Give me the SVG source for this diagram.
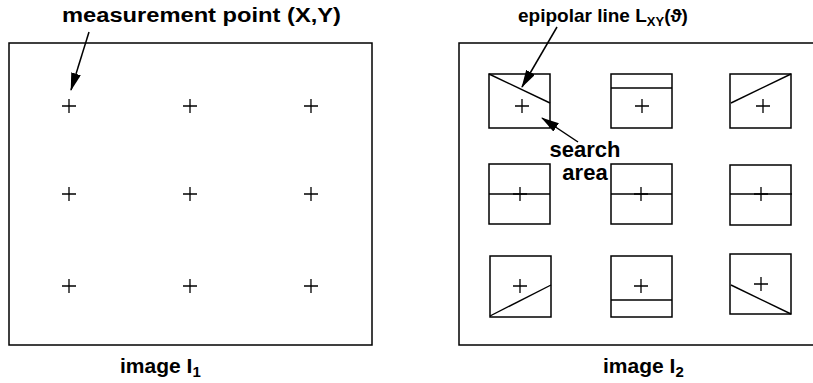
<svg xmlns="http://www.w3.org/2000/svg" width="813" height="383" viewBox="0 0 813 383">
<defs>
<style>
.frame{fill:none;stroke:#000;stroke-width:1.5}
.box{fill:none;stroke:#000;stroke-width:1.5}
.ln{stroke:#000;stroke-width:1.4;fill:none}
.pl{stroke:#000;stroke-width:1.3;fill:none}
.lbl{font-family:"Liberation Sans",Arial,sans-serif;font-weight:bold;fill:#000}
.arr{stroke:#000;stroke-width:1.5;fill:none;marker-end:url(#ah)}
</style>
<marker id="ah" markerWidth="18" markerHeight="10" refX="17" refY="5" orient="auto" markerUnits="userSpaceOnUse">
<path d="M0,0 L18,5 L0,10 Z" fill="#000"/>
</marker>
<path id="plus" d="M-7,0 H7 M0,-7 V7" class="pl"/>
</defs>
<rect width="813" height="383" fill="#fff"/>

<g id="image1">
<rect class="frame" x="9" y="43" width="363" height="302"/>
<use href="#plus" x="69" y="106"/>
<use href="#plus" x="190" y="106"/>
<use href="#plus" x="311" y="106"/>
<use href="#plus" x="69" y="194"/>
<use href="#plus" x="190" y="194"/>
<use href="#plus" x="311" y="194"/>
<use href="#plus" x="69" y="286"/>
<use href="#plus" x="190" y="286"/>
<use href="#plus" x="311" y="286"/>
<text class="lbl" x="120" y="373" font-size="21">image I<tspan font-size="15" dy="4">1</tspan></text>
</g>

<g id="image2">
<rect class="frame" x="459" y="43" width="370" height="302"/>
<text class="lbl" x="603" y="373" font-size="21">image I<tspan font-size="15" dy="4">2</tspan></text>
</g>

<g id="box-r1c1">
<rect class="box" x="489" y="74" width="61" height="54"/>
<line class="ln" x1="489" y1="74" x2="550" y2="103"/>
<use href="#plus" x="522" y="106"/>
</g>
<g id="box-r1c2">
<rect class="box" x="611" y="74" width="61" height="54"/>
<line class="ln" x1="611" y1="88" x2="672" y2="88"/>
<use href="#plus" x="642" y="106"/>
</g>
<g id="box-r1c3">
<rect class="box" x="730" y="74" width="61" height="54"/>
<line class="ln" x1="731" y1="103" x2="791" y2="74"/>
<use href="#plus" x="763" y="106"/>
</g>

<g id="box-r2c1">
<rect class="box" x="489" y="164" width="61" height="60"/>
<line class="ln" x1="489" y1="194" x2="550" y2="194"/>
<use href="#plus" x="520" y="194"/>
</g>
<g id="box-r2c2">
<rect class="box" x="611" y="164" width="61" height="60"/>
<line class="ln" x1="611" y1="194" x2="672" y2="194"/>
<use href="#plus" x="641" y="194"/>
</g>
<g id="box-r2c3">
<rect class="box" x="730" y="165" width="61" height="60"/>
<line class="ln" x1="730" y1="194" x2="792" y2="194"/>
<use href="#plus" x="761" y="194"/>
</g>

<g id="box-r3c1">
<rect class="box" x="490" y="256" width="61" height="61"/>
<line class="ln" x1="490" y1="316" x2="551" y2="285"/>
<use href="#plus" x="520" y="286"/>
</g>
<g id="box-r3c2">
<rect class="box" x="611" y="256" width="61" height="61"/>
<line class="ln" x1="611" y1="300" x2="672" y2="300"/>
<use href="#plus" x="641" y="286"/>
</g>
<g id="box-r3c3">
<rect class="box" x="730" y="254" width="61" height="60"/>
<line class="ln" x1="731" y1="285" x2="791" y2="314"/>
<use href="#plus" x="761" y="284"/>
</g>

<g id="label-measurement">
<text class="lbl" x="62" y="22" font-size="20" textLength="279" lengthAdjust="spacingAndGlyphs">measurement point (X,Y)</text>
</g>
<g id="label-epipolar">
<text class="lbl" x="518" y="22" font-size="19">epipolar line L<tspan font-size="13" dy="4">XY</tspan><tspan dy="-4">(ϑ)</tspan></text>
</g>
<g id="label-search">
<text class="lbl" font-size="22" text-anchor="middle"><tspan x="585" y="157">search</tspan><tspan x="585" y="180">area</tspan></text>
</g>

<g id="connectors">
<line class="arr" x1="89" y1="32" x2="71" y2="90"/>
<line class="arr" x1="557" y1="27" x2="522" y2="87"/>
<line class="arr" x1="578" y1="142" x2="542" y2="118"/>
</g>
</svg>
